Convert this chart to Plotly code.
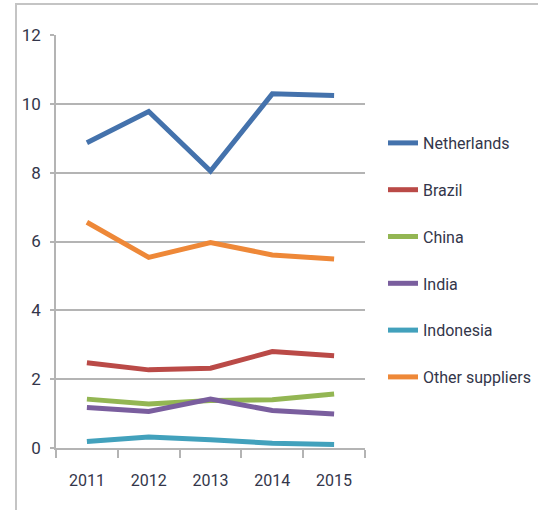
import plotly.graph_objects as go

years = ["2011", "2012", "2013", "2014", "2015"]
netherlands = [8.87, 9.78, 8.05, 10.29, 10.24]
brazil = [2.48, 2.27, 2.32, 2.80, 2.68]
china = [1.42, 1.28, 1.38, 1.40, 1.57]
india = [1.18, 1.06, 1.42, 1.09, 0.99]
indonesia = [0.19, 0.32, 0.24, 0.14, 0.10]
other = [6.56, 5.54, 5.97, 5.61, 5.49]

series = [
    ("Netherlands", netherlands, "#4472AC"),
    ("Brazil", brazil, "#BA4A47"),
    ("China", china, "#93B653"),
    ("India", india, "#7A5E9E"),
    ("Indonesia", indonesia, "#42A1BC"),
    ("Other suppliers", other, "#EE8838"),
]

W, H = 538, 510
L, R, T, B = 56, 365, 35, 448

FONT = "Roboto, Liberation Sans, sans-serif"
TXT = "#33364a"

fig = go.Figure()
for i, (name, vals, col) in enumerate(series):
    fig.add_trace(go.Scatter(
        x=years, y=vals, name=name, mode="lines",
        line=dict(color=col, width=5),
        legendgroup=str(i),
    ))

def px(x):
    return (x - L) / (R - L)

def py(y):
    return (B - y) / (B - T)

fig.update_layout(
    width=W, height=H,
    margin=dict(l=L, r=W - R, t=T, b=H - B, pad=0, autoexpand=False),
    paper_bgcolor="white", plot_bgcolor="white",
    font=dict(family=FONT, size=16, color=TXT),
    showlegend=True,
    legend=dict(
        x=px(383), y=py(126), xanchor="left", yanchor="top",
        traceorder="grouped", tracegroupgap=23,
        font=dict(family=FONT, size=16, color=TXT),
        bgcolor="rgba(0,0,0,0)",
        itemwidth=30,
    ),
    xaxis=dict(
        type="category", range=[-0.5, 4.5],
        showline=True, linecolor="#b4b4b4", linewidth=1.5,
        ticks="outside", ticklen=8, tickcolor="#b4b4b4", tickwidth=1.5,
        tickson="boundaries", showgrid=False,
        ticklabelstandoff=17,
        tickfont=dict(family=FONT, size=16, color=TXT),
    ),
    yaxis=dict(
        range=[0, 12], tickvals=[0, 2, 4, 6, 8, 10, 12],
        showline=True, linecolor="#b4b4b4", linewidth=1.5,
        ticks="outside", ticklen=4, tickcolor="#b4b4b4", tickwidth=1.5,
        showgrid=True, gridcolor="#b4b4b4", gridwidth=1.5,
        zeroline=False,
        ticklabelstandoff=6,
        tickfont=dict(family=FONT, size=17, color=TXT),
    ),
)

# outer chart frame (cropped at right and bottom)
fig.add_shape(
    type="path", xref="paper", yref="paper",
    path=f"M {px(16)} {py(515)} L {px(16)} {py(4)} L {px(545)} {py(4)}",
    line=dict(color="#c4c4c4", width=2),
)

# partly visible title text at top-left, as in the source image
fig.add_annotation(
    text="2011-2015", xref="paper", yref="paper",
    x=px(16), y=py(3), xanchor="left", yanchor="bottom",
    showarrow=False, font=dict(family=FONT, size=14, color=TXT),
)

fig.write_html("out.html")
